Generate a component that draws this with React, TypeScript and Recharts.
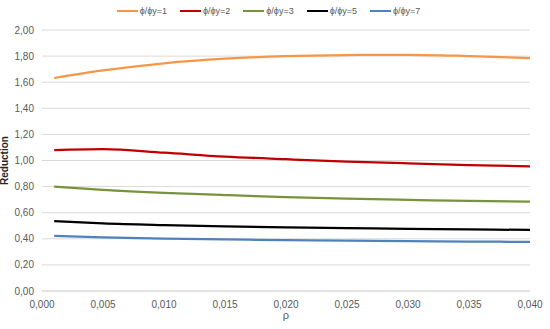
import React from "react";
import { LineChart, Line, XAxis, YAxis, CartesianGrid, Legend } from "recharts";

const rho = [0.001, 0.005, 0.01, 0.015, 0.02, 0.025, 0.03, 0.035, 0.04];
const s1 = [1.632, 1.69, 1.745, 1.78, 1.8, 1.808, 1.81, 1.8, 1.785];
const s2 = [1.08, 1.087, 1.06, 1.03, 1.01, 0.992, 0.978, 0.965, 0.955];
const s3 = [0.8, 0.775, 0.752, 0.735, 0.72, 0.708, 0.699, 0.69, 0.684];
const s5 = [0.535, 0.518, 0.505, 0.495, 0.488, 0.482, 0.477, 0.472, 0.468];
const s7 = [0.422, 0.41, 0.401, 0.395, 0.39, 0.386, 0.382, 0.379, 0.376];
const xTicks = [0, 0.005, 0.01, 0.015, 0.02, 0.025, 0.03, 0.035, 0.04];
const yTicks = [0, 0.2, 0.4, 0.6, 0.8, 1.0, 1.2, 1.4, 1.6, 1.8, 2.0];

const series = [
  { key: "a", name: "ϕ/ϕy=1", values: s1, color: "#F79646" },
  { key: "b", name: "ϕ/ϕy=2", values: s2, color: "#C00000" },
  { key: "c", name: "ϕ/ϕy=3", values: s3, color: "#77933C" },
  { key: "d", name: "ϕ/ϕy=5", values: s5, color: "#000000" },
  { key: "e", name: "ϕ/ϕy=7", values: s7, color: "#4F81BD" },
];

const data = rho.map((r, i) => {
  const row: any = { rho: r };
  series.forEach((s) => (row[s.key] = s.values[i]));
  return row;
});

const fmt = (d: number) => (v: number) => v.toFixed(d).replace(".", ",");
const font = "Liberation Sans, Arial, sans-serif";

const LegendContent = () => (
  <div style={{ display: "flex", justifyContent: "center", alignItems: "center", height: 20, fontFamily: font }}>
    {series.map((s) => (
      <div key={s.key} style={{ display: "flex", alignItems: "center", marginRight: 13, marginLeft: 0 }}>
        <div style={{ width: 21, height: 2.5, background: s.color }} />
        <span style={{ fontSize: 9, color: "#595959", marginLeft: 2 }}>{s.name}</span>
      </div>
    ))}
  </div>
);

export default function App() {
  return (
    <div style={{ position: "absolute", left: 0, top: 0, background: "#fff" }}>
      <LineChart
        width={550}
        height={329}
        data={data}
        margin={{ top: 10, right: 20, bottom: 8, left: 0 }}
        style={{ fontFamily: font }}
      >
        <CartesianGrid vertical={false} stroke="#D9D9D9" />
        <XAxis
          dataKey="rho"
          type="number"
          domain={[0, 0.04]}
          ticks={xTicks}
          tickFormatter={fmt(3)}
          axisLine={{ stroke: "#D9D9D9" }}
          tickLine={false}
          tick={{ fontSize: 10, fill: "#595959", dy: 2 }}
          height={30}
          label={{ value: "ρ", position: "insideBottom", offset: 2, fontSize: 11, fill: "#595959" }}
        />
        <YAxis
          type="number"
          domain={[0, 2]}
          ticks={yTicks}
          tickFormatter={fmt(2)}
          axisLine={false}
          tickLine={false}
          width={42}
          tick={{ fontSize: 10, fill: "#595959" }}
          label={{
            value: "Reduction",
            angle: -90,
            position: "insideLeft",
            offset: 4,
            style: { textAnchor: "middle", fontWeight: "bold", fontSize: 10, fill: "#262626" },
          }}
        />
        <Legend
          verticalAlign="top"
          align="center"
          height={20}
          wrapperStyle={{ top: 1, left: 0, width: 550 }}
          content={LegendContent}
        />
        {series.map((s) => (
          <Line
            key={s.key}
            dataKey={s.key}
            name={s.name}
            stroke={s.color}
            strokeWidth={2.25}
            dot={false}
            type="monotone"
            isAnimationActive={false}
          />
        ))}
      </LineChart>
    </div>
  );
}
